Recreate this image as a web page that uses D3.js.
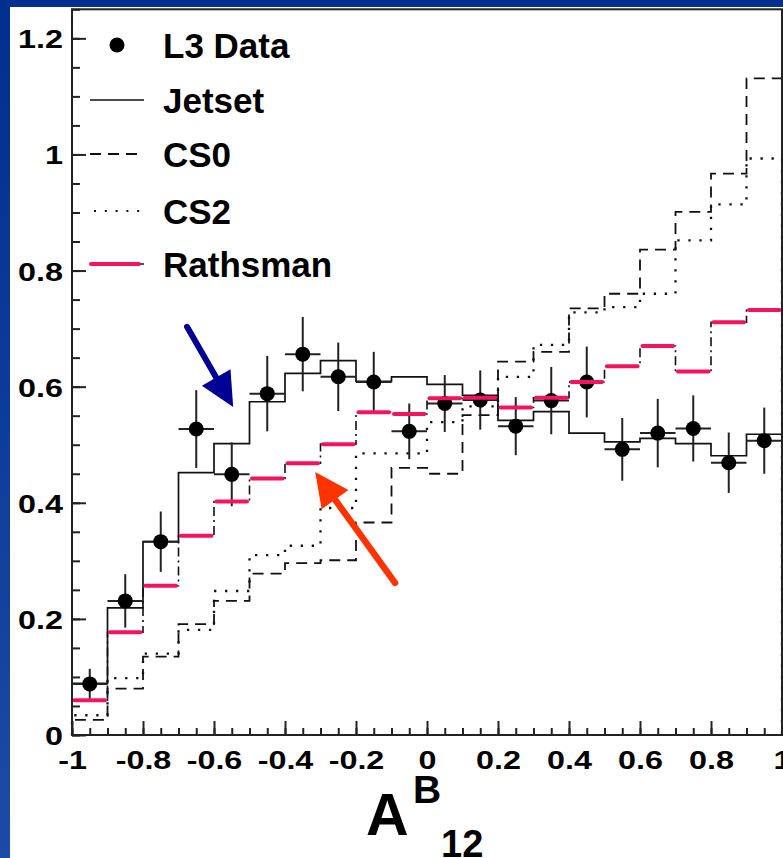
<!DOCTYPE html>
<html lang="en">
<head>
<meta charset="UTF-8">
<title>A12 B distribution</title>
<script src="https://cdn.jsdelivr.net/npm/d3@7"></script>
<style>
  body { margin: 0; padding: 0; overflow: hidden; }
  svg text { font-family: "Liberation Sans", Arial, Helvetica, sans-serif; font-weight: bold; fill: #000; }
</style>
</head>
<body>
<div id="chart"></div>
<script>
// Bin centres (20 bins of width 0.1 from -1 to 1)
var binCenters = [-0.95, -0.85, -0.75, -0.65, -0.55, -0.45, -0.35, -0.25, -0.15, -0.05,
                  0.05, 0.15, 0.25, 0.35, 0.45, 0.55, 0.65, 0.75, 0.85, 0.95];
var binWidth = 0.1;

// L3 data points and their errors
var dataVals = [0.088, 0.231, 0.333, 0.527, 0.449, 0.588, 0.656, 0.617, 0.608, 0.523,
                0.571, 0.577, 0.532, 0.576, 0.608, 0.492, 0.520, 0.528, 0.469, 0.507];
var dataErrs = [0.026, 0.046, 0.052, 0.067, 0.055, 0.065, 0.064, 0.059, 0.052, 0.048,
                0.049, 0.051, 0.050, 0.058, 0.061, 0.054, 0.059, 0.057, 0.052, 0.057];

// Model predictions
var jetset   = [0.089, 0.219, 0.333, 0.452, 0.502, 0.574, 0.623, 0.645, 0.609, 0.617,
                0.604, 0.585, 0.542, 0.557, 0.520, 0.505, 0.511, 0.502, 0.481, 0.518];
var cs0      = [0.026, 0.080, 0.135, 0.191, 0.231, 0.278, 0.296, 0.301, 0.366, 0.460,
                0.450, 0.551, 0.643, 0.660, 0.735, 0.760, 0.836, 0.901, 0.967, 1.131];
var cs2      = [0.034, 0.098, 0.140, 0.181, 0.248, 0.310, 0.326, 0.391, 0.485, 0.485,
                0.539, 0.566, 0.617, 0.672, 0.728, 0.737, 0.760, 0.852, 0.914, 0.993];
var rathsman = [0.060, 0.177, 0.257, 0.343, 0.402, 0.442, 0.468, 0.501, 0.556, 0.553,
                0.580, 0.581, 0.564, 0.581, 0.608, 0.635, 0.670, 0.626, 0.711, 0.732];

// Axis ticks
var xTicks = [-1, -0.8, -0.6, -0.4, -0.2, 0, 0.2, 0.4, 0.6, 0.8, 1];
var yTicks = [0, 0.2, 0.4, 0.6, 0.8, 1, 1.2];

var legendLabels = ["L3 Data", "Jetset", "CS0", "CS2", "Rathsman"];

// Annotation arrows, [x0, y0, x1, y1] in data units (tail -> tip)
var blueArrow = [-0.676, 0.703, -0.546, 0.565];
var redArrow  = [-0.090, 0.262, -0.315, 0.453];

var w = 783, h = 858;
var pink = "#f3135f";

var svg = d3.select("#chart").append("svg")
    .attr("width", w)
    .attr("height", h);

// blue slide background
var defs = svg.append("defs");
var grad = defs.append("linearGradient")
    .attr("id", "bg")
    .attr("x1", 0).attr("y1", 0).attr("x2", 0).attr("y2", 1);
grad.append("stop").attr("offset", "0%").attr("stop-color", "#002f8e");
grad.append("stop").attr("offset", "100%").attr("stop-color", "#1a4ba6");

svg.append("rect")
    .attr("width", w).attr("height", h)
    .attr("fill", "url(#bg)");

// white canvas
svg.append("rect")
    .attr("x", 10).attr("y", 7)
    .attr("width", w - 10).attr("height", h - 7)
    .attr("fill", "#ffffff");

var xScale = d3.scaleLinear()
    .domain([-1, 1])
    .range([72, 782]);

var yScale = d3.scaleLinear()
    .domain([0, 1.25])
    .range([735, 9.3]);

var plot = svg.append("g");

// histogram outline (from 0 at left edge to 0 at right edge)
function histPoints(vals) {
    var pts = [[binCenters[0] - binWidth / 2, 0]];
    vals.forEach(function(v, i) {
        pts.push([binCenters[i] - binWidth / 2, v]);
        pts.push([binCenters[i] + binWidth / 2, v]);
    });
    pts.push([binCenters[binCenters.length - 1] + binWidth / 2, 0]);
    return pts;
}

var line = d3.line()
    .x(function(d) { return xScale(d[0]); })
    .y(function(d) { return yScale(d[1]); });

// CS0 - dashed
plot.append("path")
    .attr("d", line(histPoints(cs0)))
    .attr("fill", "none")
    .attr("stroke", "#111")
    .attr("stroke-width", 1.8)
    .attr("stroke-dasharray", "11,7");

// CS2 - dotted
plot.append("path")
    .attr("d", line(histPoints(cs2)))
    .attr("fill", "none")
    .attr("stroke", "#111")
    .attr("stroke-width", 2.3)
    .attr("stroke-dasharray", "2.3,8.7");

// Jetset - solid
plot.append("path")
    .attr("d", line(histPoints(jetset)))
    .attr("fill", "none")
    .attr("stroke", "#111")
    .attr("stroke-width", 1.7);

// L3 data: error bars then markers
var pts = plot.selectAll(".pt")
    .data(binCenters)
    .enter()
    .append("g")
    .attr("class", "pt");

pts.append("line")
    .attr("x1", function(d) { return xScale(d); })
    .attr("x2", function(d) { return xScale(d); })
    .attr("y1", function(d, i) { return yScale(dataVals[i] - dataErrs[i]); })
    .attr("y2", function(d, i) { return yScale(dataVals[i] + dataErrs[i]); })
    .attr("stroke", "#222")
    .attr("stroke-width", 2);

pts.append("line")
    .attr("x1", function(d) { return xScale(d - binWidth / 2); })
    .attr("x2", function(d) { return xScale(d + binWidth / 2); })
    .attr("y1", function(d, i) { return yScale(dataVals[i]); })
    .attr("y2", function(d, i) { return yScale(dataVals[i]); })
    .attr("stroke", "#222")
    .attr("stroke-width", 2);

pts.append("circle")
    .attr("cx", function(d) { return xScale(d); })
    .attr("cy", function(d, i) { return yScale(dataVals[i]); })
    .attr("r", 7.5)
    .attr("fill", "#000");

// Rathsman - dash-dot outline with pink bin tops
plot.append("path")
    .attr("d", line(histPoints(rathsman)))
    .attr("fill", "none")
    .attr("stroke", "#111")
    .attr("stroke-width", 1.6)
    .attr("stroke-dasharray", "9,4,2,4");

plot.selectAll(".rath")
    .data(rathsman)
    .enter()
    .append("line")
    .attr("class", "rath")
    .attr("x1", function(d, i) { return xScale(binCenters[i] - binWidth / 2) + 2.5; })
    .attr("x2", function(d, i) { return xScale(binCenters[i] + binWidth / 2) - 2.5; })
    .attr("y1", function(d) { return yScale(d); })
    .attr("y2", function(d) { return yScale(d); })
    .attr("stroke", pink)
    .attr("stroke-width", 4)
    .attr("stroke-linecap", "round");

// frame
svg.append("rect")
    .attr("x", xScale(-1)).attr("y", yScale(1.25))
    .attr("width", xScale(1) - xScale(-1))
    .attr("height", yScale(0) - yScale(1.25))
    .attr("fill", "none")
    .attr("stroke", "#222")
    .attr("stroke-width", 2);

// minor ticks every 0.05
var xMinor = d3.range(-1, 1.0001, 0.05);
var yMinor = d3.range(0, 1.2501, 0.05);

svg.append("g")
    .attr("transform", "translate(0," + yScale(0) + ")")
    .call(d3.axisBottom(xScale).tickValues(xMinor).tickSize(-7).tickSizeOuter(0).tickFormat(""))
    .call(function(g) { g.select(".domain").remove(); })
    .selectAll("line").attr("stroke", "#222").attr("stroke-width", 2);

svg.append("g")
    .attr("transform", "translate(" + xScale(-1) + ",0)")
    .call(d3.axisLeft(yScale).tickValues(yMinor).tickSize(-8).tickSizeOuter(0).tickFormat(""))
    .call(function(g) { g.select(".domain").remove(); })
    .selectAll("line").attr("stroke", "#222").attr("stroke-width", 2);

// major ticks with labels
var fmt = function(d) { return String(+d.toFixed(1)); };

var xAxis = svg.append("g")
    .attr("transform", "translate(0," + yScale(0) + ")")
    .call(d3.axisBottom(xScale).tickValues(xTicks).tickSize(-14).tickSizeOuter(0).tickFormat(fmt));
xAxis.select(".domain").remove();
xAxis.selectAll("line").attr("stroke", "#222").attr("stroke-width", 2);
xAxis.selectAll("text")
    .attr("y", 34)
    .attr("dy", null)
    .attr("font-size", "26.5px")
    .attr("transform", "scale(1.22,1)");

var yAxis = svg.append("g")
    .attr("transform", "translate(" + xScale(-1) + ",0)")
    .call(d3.axisLeft(yScale).tickValues(yTicks).tickSize(-14).tickSizeOuter(0).tickFormat(fmt));
yAxis.select(".domain").remove();
yAxis.selectAll("line").attr("stroke", "#222").attr("stroke-width", 2);
yAxis.selectAll("text")
    .attr("x", -9 / 1.22)
    .attr("y", 9.5)
    .attr("dy", null)
    .attr("font-size", "26.5px")
    .attr("transform", "scale(1.22,1)");

// legend
var legY = [45, 100, 154, 211, 264];
var leg = svg.append("g");

leg.append("circle")
    .attr("cx", 117).attr("cy", legY[0]).attr("r", 7.5).attr("fill", "#000");

leg.append("line")
    .attr("x1", 90).attr("x2", 144).attr("y1", legY[1]).attr("y2", legY[1])
    .attr("stroke", "#111").attr("stroke-width", 1.7);

leg.append("line")
    .attr("x1", 90).attr("x2", 144).attr("y1", legY[2]).attr("y2", legY[2])
    .attr("stroke", "#111").attr("stroke-width", 1.8).attr("stroke-dasharray", "11,7");

leg.append("line")
    .attr("x1", 94).attr("x2", 144).attr("y1", legY[3]).attr("y2", legY[3])
    .attr("stroke", "#111").attr("stroke-width", 2).attr("stroke-dasharray", "2,8.8");

leg.append("line")
    .attr("x1", 90).attr("x2", 144).attr("y1", legY[4]).attr("y2", legY[4])
    .attr("stroke", "#111").attr("stroke-width", 1.6);
leg.append("line")
    .attr("x1", 91).attr("x2", 139).attr("y1", legY[4]).attr("y2", legY[4])
    .attr("stroke", pink).attr("stroke-width", 4).attr("stroke-linecap", "round");

leg.selectAll(".leg-text")
    .data(legendLabels)
    .enter()
    .append("text")
    .attr("class", "leg-text")
    .attr("x", 163)
    .attr("y", function(d, i) { return legY[i] + 12.5; })
    .attr("font-size", "35px")
    .text(function(d) { return d; });

// arrows
function drawArrow(a, color, width) {
    var x0 = xScale(a[0]), y0 = yScale(a[1]);
    var x1 = xScale(a[2]), y1 = yScale(a[3]);
    var dx = x1 - x0, dy = y1 - y0;
    var len = Math.sqrt(dx * dx + dy * dy);
    var ux = dx / len, uy = dy / len;
    var headLen = 34, headHalf = 16.5;
    var bx = x1 - ux * headLen, by = y1 - uy * headLen;
    svg.append("line")
        .attr("x1", x0).attr("y1", y0)
        .attr("x2", bx + ux * 4).attr("y2", by + uy * 4)
        .attr("stroke", color)
        .attr("stroke-width", width)
        .attr("stroke-linecap", "round");
    svg.append("path")
        .attr("d", "M" + x1 + "," + y1 +
                   "L" + (bx - uy * headHalf) + "," + (by + ux * headHalf) +
                   "L" + (bx + uy * headHalf) + "," + (by - ux * headHalf) + "Z")
        .attr("fill", color);
}

drawArrow(blueArrow, "#000094", 6);
drawArrow(redArrow, "#ff3300", 6.5);

// x-axis title: A^B_12
svg.append("text").attr("x", 366).attr("y", 835).attr("font-size", "59px").text("A");
svg.append("text").attr("x", 413).attr("y", 803).attr("font-size", "39px").text("B");
svg.append("text").attr("x", 441).attr("y", 857).attr("font-size", "38px").text("12");
</script>
</body>
</html>
